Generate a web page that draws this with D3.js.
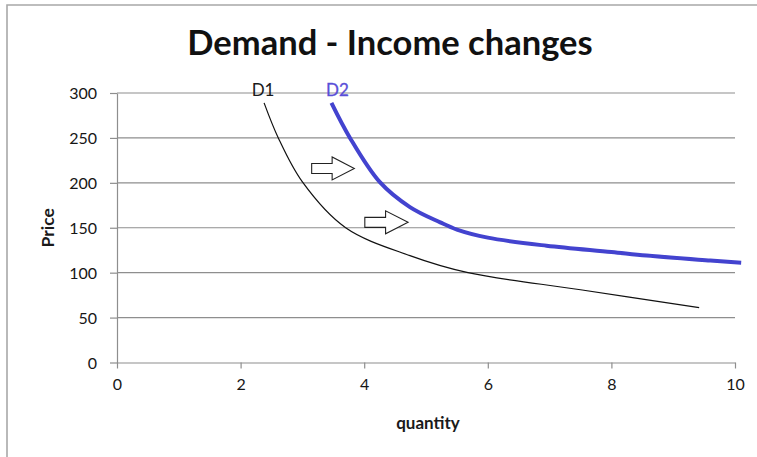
<!DOCTYPE html>
<html>
<head>
<meta charset="utf-8">
<script src="https://d3js.org/d3.v7.min.js"></script>
<style>
  body { margin: 0; background: #fff; overflow: hidden; }
  svg { display: block; font-family: Lato, "Open Sans", sans-serif; }
  .tick text { fill: #161616; font-size: 16px; }
</style>
</head>
<body>
<div id="chart"></div>
<script>
// data (quantity, price)
const d1Qty   = [2.38, 2.61, 3.0, 3.7, 4.74, 5.68, 7.5, 9.42];
const d1Price = [289, 250, 201, 150, 119, 100, 81, 61];

const d2Qty   = [3.47, 3.77, 4.25, 4.74, 5.23, 5.5, 6.0, 6.95, 8.0, 8.57, 9.6, 10.1];
const d2Price = [289, 250, 201, 173, 156, 148, 139, 130, 123, 119, 113.5, 111];

const xTicks = [0, 2, 4, 6, 8, 10];
const yTicks = [0, 50, 100, 150, 200, 250, 300];

// shift arrows: start quantity, end quantity, price level
const arrowFrom  = [3.15, 4.01];
const arrowTo    = [3.84, 4.71];
const arrowPrice = [216, 156];

const W = 757, H = 457;

const svg = d3.select("#chart").append("svg")
    .attr("width", W)
    .attr("height", H);

// chart frame (only top/left edges show in the crop)
svg.append("path")
    .attr("d", `M7,${H}V5H${W}`)
    .attr("fill", "none")
    .attr("stroke", "#a8a8a8")
    .attr("stroke-width", 1.6);

const x = d3.scaleLinear().domain([0, 10]).range([117, 735]);
const y = d3.scaleLinear().domain([0, 300]).range([362.5, 93]);

// gridlines
svg.append("g")
  .selectAll("line")
  .data(yTicks.filter(v => v > 0))
  .join("line")
    .attr("x1", x(0)).attr("x2", x(10))
    .attr("y1", d => y(d)).attr("y2", d => y(d))
    .attr("stroke", "#8e8e8e")
    .attr("stroke-width", 1.2);

const yAxis = svg.append("g")
    .attr("transform", `translate(${x(0)},0)`)
    .call(d3.axisLeft(y).tickValues(yTicks).tickSize(7).tickSizeOuter(0).tickPadding(13));

const xAxis = svg.append("g")
    .attr("transform", `translate(0,${y(0)})`)
    .call(d3.axisBottom(x).tickValues(xTicks).tickFormat(d3.format("d")).tickSize(6).tickSizeOuter(0).tickPadding(10));

[yAxis, xAxis].forEach(a => {
  a.attr("font-family", null).attr("font-size", null);
  a.select(".domain").attr("stroke", "#8e8e8e").attr("stroke-width", 1.2);
  a.selectAll(".tick line").attr("stroke", "#8e8e8e").attr("stroke-width", 1.2);
});
yAxis.selectAll(".tick text").attr("dy", "0.36em");

// curves
const line = d3.line()
    .x(d => x(d[0]))
    .y(d => y(d[1]))
    .curve(d3.curveCatmullRom.alpha(0.5));

const d1 = d3.zip(d1Qty, d1Price);
const d2 = d3.zip(d2Qty, d2Price);

svg.append("path")
    .datum(d1)
    .attr("d", line)
    .attr("fill", "none")
    .attr("stroke", "#111")
    .attr("stroke-width", 1.2);

svg.append("path")
    .datum(d2)
    .attr("d", line)
    .attr("fill", "none")
    .attr("stroke", "#4343cf")
    .attr("stroke-width", 4);

// curve labels
svg.append("text")
    .attr("x", x(d1[0][0]) - 1)
    .attr("y", y(d1[0][1]) - 7)
    .attr("text-anchor", "middle")
    .attr("font-size", 17)
    .attr("fill", "#1a1a1a")
    .text("D1");

svg.append("text")
    .attr("x", x(d2[0][0]) + 6)
    .attr("y", y(d2[0][1]) - 7)
    .attr("text-anchor", "middle")
    .attr("font-size", 17)
    .attr("fill", "#5a4fd8")
    .attr("stroke", "#5a4fd8")
    .attr("stroke-width", 0.3)
    .text("D2");

// block arrows
const arrows = d3.range(arrowFrom.length).map(i => ({
  x0: x(arrowFrom[i]), x1: x(arrowTo[i]), yc: y(arrowPrice[i])
}));

svg.append("g")
  .selectAll("path")
  .data(arrows)
  .join("path")
    .attr("d", a => {
      const headLen = (a.x1 - a.x0) * 0.52, bh = 5, hh = 11.5;
      const xb = a.x1 - headLen;
      return `M${a.x0},${a.yc - bh}H${xb}V${a.yc - hh}L${a.x1},${a.yc}L${xb},${a.yc + hh}V${a.yc + bh}H${a.x0}Z`;
    })
    .attr("fill", "#fff")
    .attr("stroke", "#222")
    .attr("stroke-width", 1.1);

// titles
svg.append("text")
    .attr("x", 390)
    .attr("y", 55)
    .attr("text-anchor", "middle")
    .attr("font-size", 34.5)
    .attr("font-weight", 700)
    .attr("fill", "#111")
    .text("Demand - Income changes");

svg.append("text")
    .attr("x", (x(0) + x(10)) / 2 + 2)
    .attr("y", 429)
    .attr("text-anchor", "middle")
    .attr("font-size", 17)
    .attr("font-weight", 700)
    .attr("fill", "#1a1a1a")
    .text("quantity");

svg.append("text")
    .attr("transform", `translate(54,${(y(0) + y(300)) / 2}) rotate(-90)`)
    .attr("text-anchor", "middle")
    .attr("font-size", 17.5)
    .attr("font-weight", 700)
    .attr("fill", "#1a1a1a")
    .text("Price");
</script>
</body>
</html>
